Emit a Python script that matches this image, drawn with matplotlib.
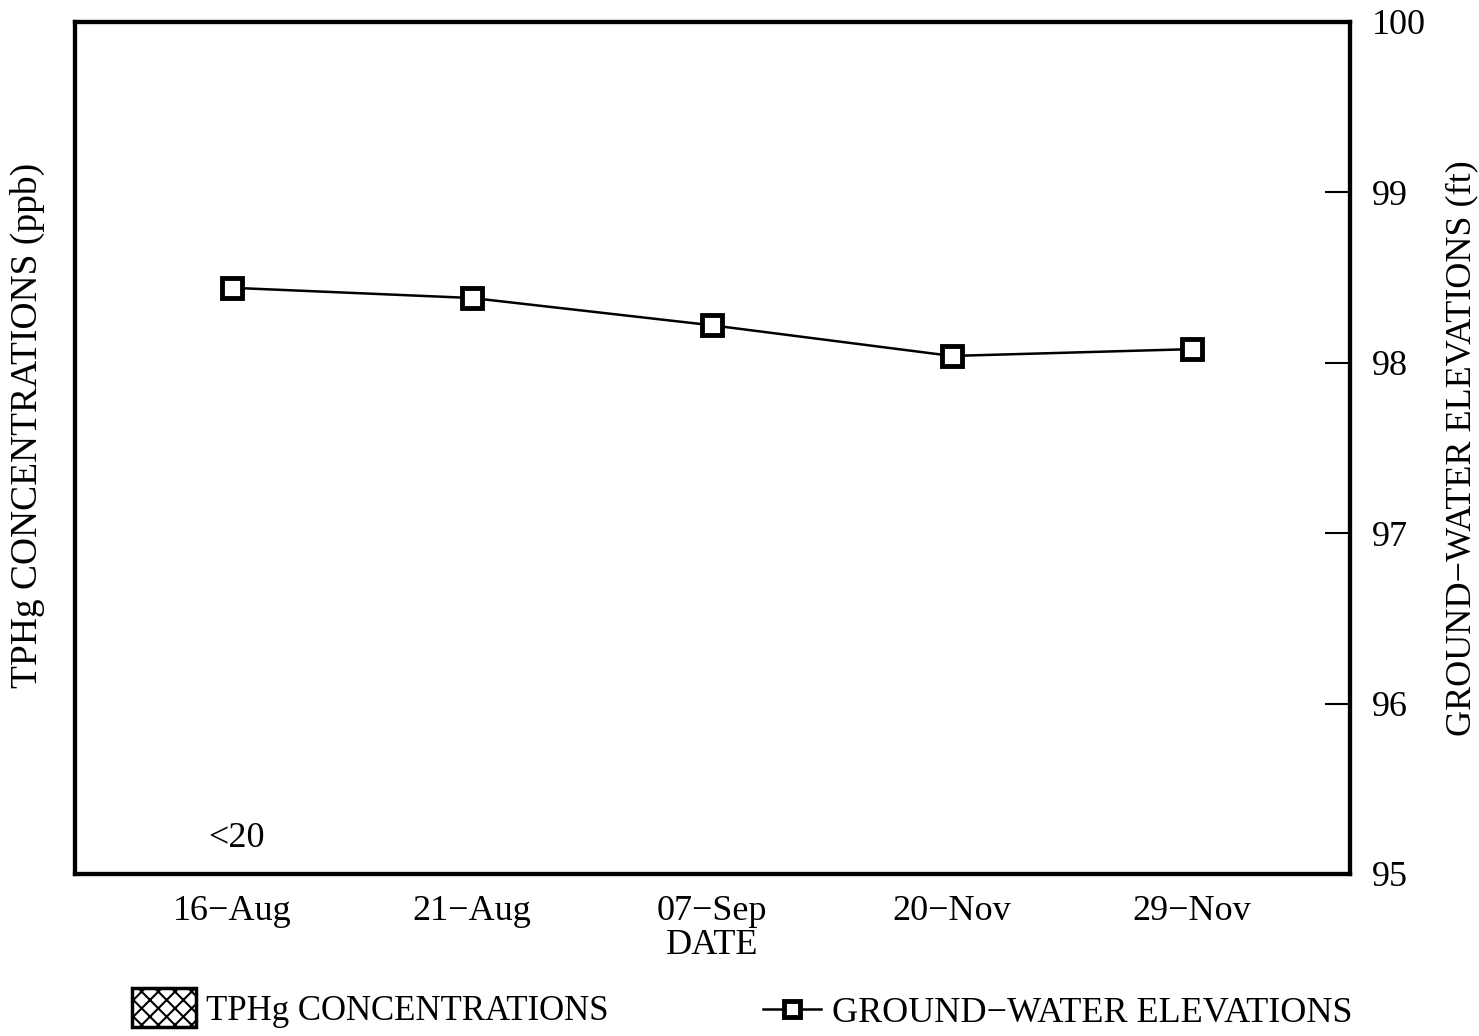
import matplotlib.pyplot as plt
from matplotlib.patches import Patch
from matplotlib.lines import Line2D

plt.rcParams['font.family'] = ['Liberation Serif', 'DejaVu Serif']
plt.rcParams['hatch.linewidth'] = 1.5

dates = ['16\u2212Aug', '21\u2212Aug', '07\u2212Sep', '20\u2212Nov', '29\u2212Nov']
elevation = [98.44, 98.38, 98.22, 98.04, 98.08]
tphg = [0, 0, 0, 0, 0]
tphg_labels = ['<20', '', '', '', '']
elev_ticks = [95, 96, 97, 98, 99, 100]

fs = 26
fig = plt.figure(figsize=(14.79, 10.36), dpi=100)
ax = fig.add_axes([0.0507, 0.1564, 0.8621, 0.8224])
ax2 = ax.twinx()

x = list(range(len(dates)))

# concentrations (all non-detect here)
ax.bar(x, tphg, width=0.5, facecolor='white', edgecolor='black', hatch='xx')
for xi, lab in zip(x, tphg_labels):
    if lab:
        ax.text(xi + 0.02, 0.42, lab, ha='center', va='center', fontsize=fs)
ax.set_ylim(0, 10)
ax.set_yticks([])
ax.set_xlim(-0.655, 4.66)
ax.set_xticks(x)
ax.set_xticklabels(dates, fontsize=fs)
ax.tick_params(axis='x', length=0, pad=15)
ax.set_xlabel('DATE', fontsize=fs, labelpad=1)
ax.set_ylabel('TPHg CONCENTRATIONS (ppb)', fontsize=27)
ax.yaxis.set_label_coords(-0.0235, 0.526)

ax2.plot(x, elevation, color='black', lw=1.8, marker='s', ms=15,
         mfc='white', mec='black', mew=3.5)
ax2.set_ylim(95, 100)
ax2.set_yticks(elev_ticks)
ax2.set_yticklabels([str(t) for t in elev_ticks], fontsize=fs)
ax2.tick_params(axis='y', direction='in', length=18, width=1.5, pad=16)
ax2.set_ylabel('GROUND\u2212WATER ELEVATIONS (ft)', fontsize=fs, labelpad=14)

for a in (ax, ax2):
    for s in a.spines.values():
        s.set_linewidth(3)

h1 = Patch(facecolor='white', edgecolor='black', hatch='xx', lw=2.5)
h2 = Line2D([], [], color='black', lw=1.8, marker='s', ms=12,
            mfc='white', mec='black', mew=3.5)
fig.legend([h1], ['TPHg CONCENTRATIONS'], loc='center left',
           bbox_to_anchor=(0.068, 0.027), frameon=False, fontsize=25,
           handlelength=1.85, handleheight=1.35, handletextpad=0.3)
fig.legend([h2], ['GROUND\u2212WATER ELEVATIONS'], loc='center left',
           bbox_to_anchor=(0.494, 0.022), frameon=False, fontsize=fs,
           handlelength=1.6, handletextpad=0.3)

fig.savefig('out.png', dpi=100)
